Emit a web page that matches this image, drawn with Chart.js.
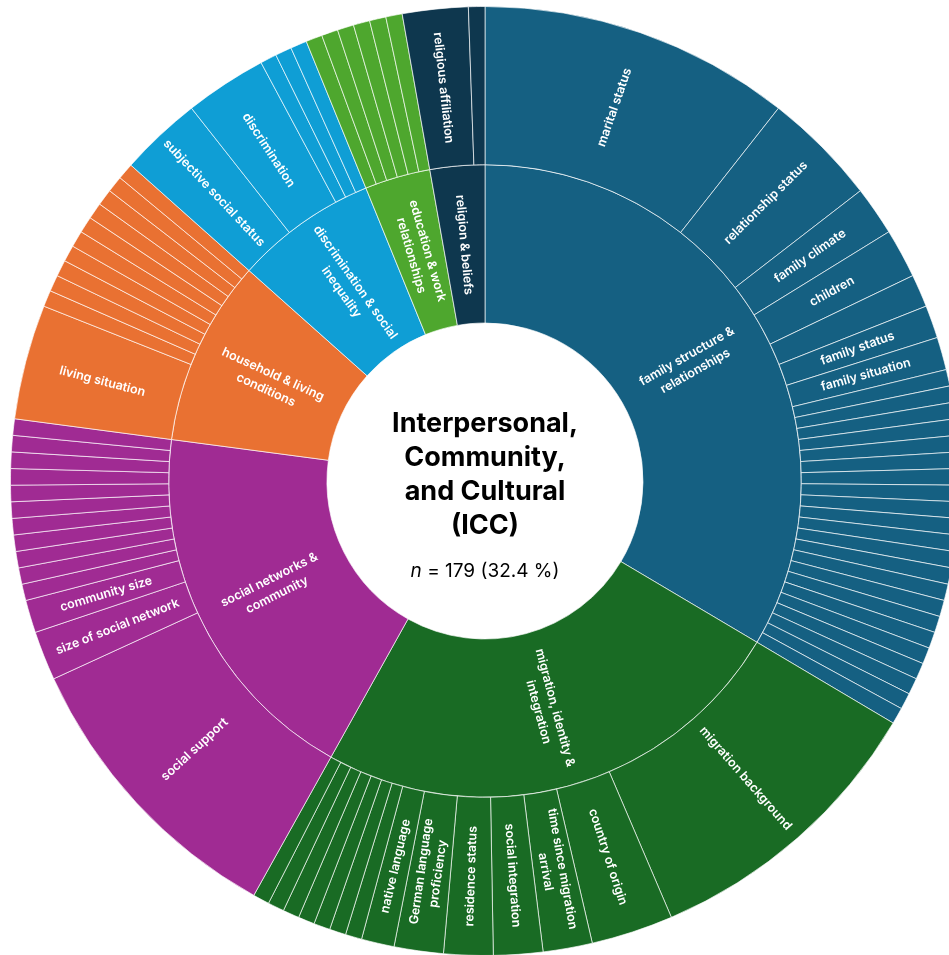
<!DOCTYPE html>
<html>
<head>
<meta charset="utf-8">
<script src="https://cdn.jsdelivr.net/npm/chart.js@4.4.1/dist/chart.umd.min.js"></script>
<style>
  html, body { margin: 0; padding: 0; background: #fff; overflow: hidden; }
  #wrap { position: absolute; left: 0; top: 0; width: 970px; height: 962px; }
</style>
</head>
<body>
<div id="wrap"><canvas id="sunburst" width="970" height="962"></canvas></div>
<script>
// inner ring: categories (clockwise from 12 o'clock)
const groupLabels = [
  'family structure &\nrelationships',
  'migration, identity &\nintegration',
  'social networks &\ncommunity',
  'household & living\nconditions',
  'discrimination & social\ninequality',
  'education & work\nrelationships',
  'religion & beliefs'
];
const groupColors = ['#156082', '#196B24', '#A02B93', '#E97132', '#0F9ED5', '#4EA72E', '#0E374E'];

// outer ring: sub-categories per group (n studies each)
const familyLabels = ['marital status', 'relationship status', 'family climate', 'children', '', 'family status', 'family situation',
  '', '', '', '', '', '', '', '', '', '', '', '', '', '', '', '', '', '', '', '', '', ''];
const familyValues = [19, 7, 3, 3, 2, 2, 2,
  1, 1, 1, 1, 1, 1, 1, 1, 1, 1, 1, 1, 1, 1, 1, 1, 1, 1, 1, 1, 1, 1];

const migrationLabels = ['migration background', 'country of origin', 'time since migration\narrival', 'social integration',
  'residence status', 'German language\nproficiency', 'native language', '', '', '', '', '', '', ''];
const migrationValues = [18, 5, 3, 3, 3, 3, 2, 1, 1, 1, 1, 1, 1, 1];

const socialLabels = ['social support', 'size of social network', 'community size', '', '', '', '', '', '', '', '', '', '', ''];
const socialValues = [18, 3, 2, 1, 1, 1, 1, 1, 1, 1, 1, 1, 1, 1];

const householdLabels = ['living situation', '', '', '', '', '', '', '', '', '', ''];
const householdValues = [7, 1, 1, 1, 1, 1, 1, 1, 1, 1, 1];

const discrimLabels = ['subjective social status', 'discrimination', '', '', ''];
const discrimValues = [5, 5, 1, 1, 1];

const educationLabels = ['', '', '', '', '', ''];
const educationValues = [1, 1, 1, 1, 1, 1];

const religionLabels = ['religious affiliation', ''];
const religionValues = [4, 1];

const centerTitle = ['Interpersonal,', 'Community,', 'and Cultural', '(ICC)'];
const centerN = 179;
const centerPct = '32.4';

// build rings
const leafSets = [
  [familyLabels, familyValues], [migrationLabels, migrationValues], [socialLabels, socialValues],
  [householdLabels, householdValues], [discrimLabels, discrimValues], [educationLabels, educationValues],
  [religionLabels, religionValues]
];
const leafLabels = [], leafValues = [], leafColors = [], groupValues = [];
leafSets.forEach((s, gi) => {
  let sum = 0;
  s[0].forEach((l, i) => {
    leafLabels.push(l);
    leafValues.push(s[1][i]);
    leafColors.push(groupColors[gi]);
    sum += s[1][i];
  });
  groupValues.push(sum);
});

// draws labels along the radius of each arc
const arcLabels = {
  id: 'arcLabels',
  afterDatasetsDraw(chart) {
    const ctx = chart.ctx;
    chart.data.datasets.forEach((ds, di) => {
      const meta = chart.getDatasetMeta(di);
      meta.data.forEach((arc, i) => {
        const txt = ds.names[i];
        if (!txt) return;
        const p = arc.getProps(['x', 'y', 'startAngle', 'endAngle', 'innerRadius', 'outerRadius']);
        const a = (p.startAngle + p.endAngle) / 2;
        const r = (p.innerRadius + p.outerRadius) / 2;
        ctx.save();
        ctx.translate(p.x + r * Math.cos(a), p.y + r * Math.sin(a));
        ctx.rotate(Math.cos(a) >= 0 ? a : a + Math.PI);
        ctx.fillStyle = '#fff';
        ctx.font = '600 12.5px Inter, "Open Sans", sans-serif';
        ctx.textAlign = 'center';
        ctx.textBaseline = 'middle';
        const lines = txt.split('\n');
        const lh = 17;
        lines.forEach((ln, k) => {
          ctx.fillText(ln, 0, (k - (lines.length - 1) / 2) * lh);
        });
        ctx.restore();
      });
    });
  },
  afterDraw(chart) {
    const ctx = chart.ctx;
    const arc = chart.getDatasetMeta(0).data[0];
    const cx = arc.x, cy = arc.y;
    ctx.save();
    ctx.fillStyle = '#000';
    ctx.textAlign = 'center';
    ctx.textBaseline = 'middle';
    ctx.font = 'bold 27px Inter, "Open Sans", sans-serif';
    centerTitle.forEach((ln, k) => {
      ctx.fillText(ln, cx, cy - 57 + k * 34);
    });
    // n = 179 (32.4 %)
    const rest = ' = ' + centerN + ' (' + centerPct + ' %)';
    ctx.font = 'italic 19px Inter, "Open Sans", sans-serif';
    const w1 = ctx.measureText('n').width;
    ctx.font = '19px Inter, "Open Sans", sans-serif';
    const w2 = ctx.measureText(rest).width;
    const x0 = cx - (w1 + w2) / 2;
    ctx.textAlign = 'left';
    ctx.font = 'italic 19px Inter, "Open Sans", sans-serif';
    ctx.fillText('n', x0, cy + 90);
    ctx.font = '19px Inter, "Open Sans", sans-serif';
    ctx.fillText(rest, x0 + w1, cy + 90);
    ctx.restore();
  }
};

const ctx = document.getElementById('sunburst').getContext('2d');
const chart = new Chart(ctx, {
  type: 'doughnut',
  data: {
    labels: leafLabels,
    datasets: [
      {
        data: leafValues,
        names: leafLabels,
        backgroundColor: leafColors,
        borderColor: 'rgba(255,255,255,0.65)',
        borderWidth: 1
      },
      {
        data: groupValues,
        names: groupLabels,
        backgroundColor: groupColors,
        borderColor: 'rgba(255,255,255,0.65)',
        borderWidth: 1
      }
    ]
  },
  options: {
    responsive: false,
    devicePixelRatio: 1,
    animation: false,
    events: [],
    cutout: '33.3%',
    rotation: 0,
    layout: { padding: 6 },
    plugins: {
      legend: { display: false },
      tooltip: { enabled: false }
    }
  },
  plugins: [arcLabels]
});
</script>
</body>
</html>
